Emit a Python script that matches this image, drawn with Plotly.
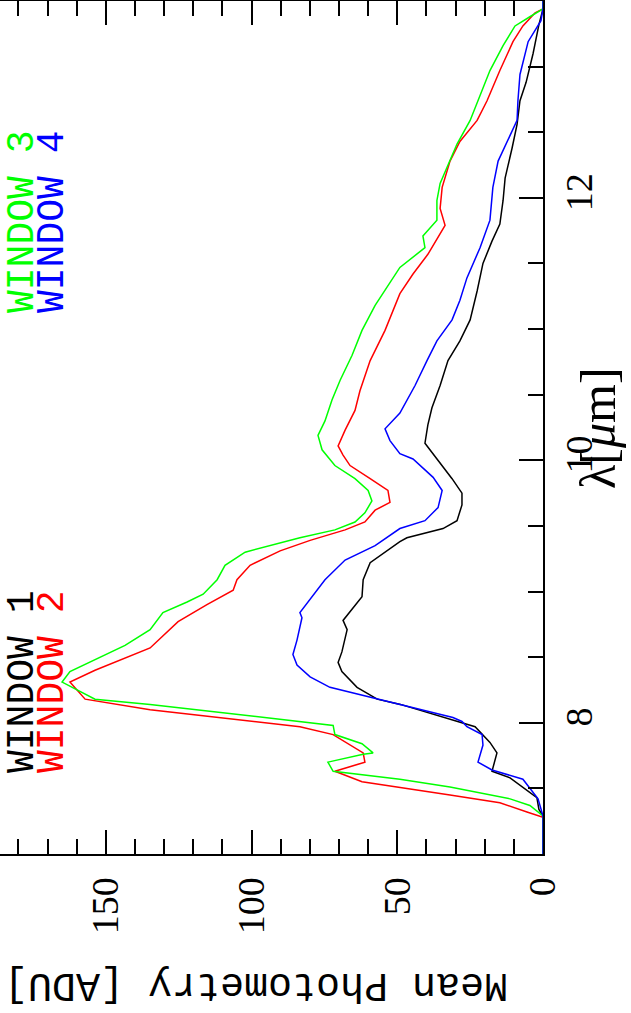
import plotly.graph_objects as go

# ---- data (wavelength in micron, photometry in ADU) ----
lam_w1 = [7.0, 7.29, 7.34, 7.43, 7.58, 7.63, 7.77, 7.85, 7.97, 8.01, 8.14, 8.18, 8.27, 8.39, 8.46,
          8.54, 8.71, 8.78, 8.96, 9.09, 9.22, 9.38, 9.41, 9.48, 9.54, 9.66, 9.75, 9.86, 9.98, 10.13,
          10.27, 10.40, 10.57, 10.76, 10.91, 11.07, 11.29, 11.50, 11.67, 11.80, 11.98, 12.15, 12.38,
          12.56, 12.74, 12.88, 13.10, 13.32, 13.44, 13.5]
val_w1 = [0, 0, 1.4, 2.1, 11.3, 17.5, 15.8, 18.2, 23.3, 29.5, 48.9, 56.9, 63.8, 69.0, 70.3,
          69.0, 67.2, 68.6, 62.1, 61.7, 59.3, 49.1, 46.7, 34.3, 29.5, 27.8, 27.8, 31.2, 35.3, 40.5,
          39.5, 38.1, 35.3, 32.6, 28.5, 25.0, 22.6, 20.6, 17.5, 14.8, 13.7, 13.0, 10.6,
          8.9, 7.9, 5.8, 3.4, 1.4, 0, 0]

lam_w2 = [7.0, 7.28, 7.32, 7.39, 7.45, 7.51, 7.55, 7.63, 7.70, 7.77, 7.91, 7.97, 8.10, 8.18, 8.31,
          8.40, 8.48, 8.57, 8.77, 8.90, 9.01, 9.09, 9.20, 9.31, 9.39, 9.47, 9.53, 9.62, 9.68, 9.77,
          9.86, 9.96, 10.04, 10.11, 10.23, 10.38, 10.53, 10.76, 10.99, 11.14, 11.27, 11.42, 11.57,
          11.79, 11.92, 12.08, 12.28, 12.43, 12.59, 12.74, 12.97, 13.19, 13.31, 13.41, 13.44, 13.5]
val_w2 = [0, 0, 5.5, 14.8, 31.9, 49.1, 62.1, 71.4, 61.1, 61.7, 72.0, 83.4, 134.8, 157.1, 162.3,
          153.7, 145.0, 134.8, 125.2, 115.3, 106.3, 105.0, 100.5, 90.2, 79.9, 67.9, 61.1, 57.6, 52.5, 53.2,
          59.3, 66.2, 68.6, 70.3, 67.9, 64.5, 62.8, 59.3, 54.2, 51.5, 49.1, 44.6, 39.5,
          33.6, 35.3, 34.6, 31.9, 28.5, 22.6, 19.2, 14.8, 10.3, 6.9, 2.7, 0, 0]

lam_w3 = [7.0, 7.29, 7.37, 7.42, 7.51, 7.57, 7.63, 7.70, 7.76, 7.77, 7.84, 7.91, 7.98, 8.14, 8.18,
          8.31, 8.39, 8.48, 8.59, 8.71, 8.84, 8.92, 8.98, 9.09, 9.20, 9.30, 9.35, 9.41, 9.47, 9.53,
          9.60, 9.69, 9.77, 9.86, 9.96, 10.08, 10.19, 10.30, 10.46, 10.61, 10.80, 10.99, 11.18,
          11.33, 11.47, 11.62, 11.71, 11.83, 11.98, 12.11, 12.28, 12.41, 12.59, 12.74, 12.97, 13.16,
          13.31, 13.38, 13.44, 13.5]
val_w3 = [0, 0, 4.5, 11.3, 31.9, 49.1, 72.0, 73.8, 61.7, 58.3, 62.1, 71.4, 72.0, 134.8, 153.7,
          165.0, 162.3, 153.7, 143.4, 134.8, 130.4, 122.1, 116.6, 111.8, 109.1, 102.2, 93.7, 83.4, 71.4, 64.5,
          61.1, 58.7, 60.0, 64.5, 71.4, 75.8, 77.2, 74.8, 72.4, 69.6, 65.5, 62.1, 57.6,
          53.2, 49.1, 40.5, 41.2, 36.4, 36.4, 35.3, 31.9, 29.5, 25.0, 22.3, 18.2, 13.7,
          9.6, 4.5, 0, 0]

lam_w4 = [7.0, 7.29, 7.42, 7.57, 7.64, 7.70, 7.83, 7.91, 7.97, 8.01, 8.04, 8.14, 8.18, 8.27, 8.35,
          8.44, 8.52, 8.63, 8.80, 8.84, 9.09, 9.24, 9.35, 9.48, 9.54, 9.64, 9.77, 9.87, 10.01, 10.05,
          10.15, 10.24, 10.36, 10.57, 10.76, 10.91, 11.07, 11.22, 11.39, 11.62, 11.83, 12.08, 12.28,
          12.43, 12.59, 12.74, 12.94, 13.19, 13.35, 13.44, 13.5]
val_w4 = [0, 0, 1.7, 6.9, 17.5, 22.3, 20.6, 20.9, 26.1, 27.8, 30.9, 49.1, 56.9, 73.1, 79.9,
          84.4, 85.8, 84.4, 82.7, 83.4, 74.8, 67.9, 57.6, 49.1, 40.5, 36.0, 34.6, 37.7, 44.6, 49.1,
          52.5, 54.2, 49.1, 43.9, 39.8, 36.4, 31.2, 28.5, 26.1, 21.6, 18.2, 17.2, 15.4,
          12.3, 8.9, 8.6, 7.9, 5.1, 0.7, 0, 0]

series_names = ["WINDOW 1", "WINDOW 2", "WINDOW 3", "WINDOW 4"]
series_colors = ["#000000", "#ff0000", "#00ff00", "#0000ff"]

x_tickvals = [0, 50, 100, 150]
y_tickvals = [8, 10, 12]

# ---- figure ----
fig = go.Figure()
for lam, val, name, col in zip([lam_w1, lam_w2, lam_w3, lam_w4],
                               [val_w1, val_w2, val_w3, val_w4],
                               series_names, series_colors):
    fig.add_trace(go.Scatter(x=val, y=lam, mode="lines", name=name,
                             line=dict(color=col, width=1.5), showlegend=False))

W, H = 631, 1013
ml, mr, mt, mb = 0, 88, 1, 159
pw, ph = W - ml - mr, H - mt - mb

def px(xp):
    return (xp - ml) / pw

def py(yp):
    return (H - mb - yp) / ph

tick_font = dict(family="Liberation Serif", size=38, color="black")

fig.update_layout(
    width=W, height=H,
    margin=dict(l=ml, r=mr, t=mt, b=mb),
    paper_bgcolor="white", plot_bgcolor="white",
    xaxis=dict(
        range=[186.3, 0], showgrid=False, zeroline=False,
        showline=True, linecolor="black", linewidth=2, mirror="allticks",
        ticks="inside", ticklen=24, tickwidth=2, tickcolor="black",
        tickvals=x_tickvals, ticktext=[str(v) for v in x_tickvals],
        tickangle=-90, tickfont=tick_font, ticklabelstandoff=6,
        minor=dict(ticks="inside", ticklen=15, tickwidth=2, tickcolor="black", dtick=10, tick0=0),
    ),
    yaxis=dict(
        range=[7.0, 13.5], side="right", showgrid=False, zeroline=False,
        showline=True, linecolor="black", linewidth=2, mirror=False,
        ticks="inside", ticklen=24, tickwidth=2, tickcolor="black",
        tickvals=y_tickvals, ticktext=[str(v) for v in y_tickvals],
        tickangle=-90, tickfont=tick_font, ticklabelstandoff=1,
        minor=dict(ticks="inside", ticklen=15, tickwidth=2, tickcolor="black", dtick=0.5, tick0=0),
    ),
)

mono = "Liberation Mono"
ann = [
    dict(text="Mean Photometry [ADU]", x=px(256), y=py(985), textangle=180,
         font=dict(family=mono, size=40, color="black")),
    dict(text="λ[<i>μ</i>m]", x=px(598), y=py(428), textangle=-90,
         font=dict(family="Liberation Serif", size=50, color="black")),
    dict(text=series_names[0], x=px(22), y=py(682), textangle=-90,
         font=dict(family=mono, size=38, color=series_colors[0])),
    dict(text=series_names[1], x=px(52), y=py(682), textangle=-90,
         font=dict(family=mono, size=38, color=series_colors[1])),
    dict(text=series_names[2], x=px(22), y=py(222), textangle=-90,
         font=dict(family=mono, size=38, color=series_colors[2])),
    dict(text=series_names[3], x=px(52), y=py(222), textangle=-90,
         font=dict(family=mono, size=38, color=series_colors[3])),
]
for a in ann:
    fig.add_annotation(xref="paper", yref="paper", showarrow=False,
                       xanchor="center", yanchor="middle", **a)

fig.write_html("out.html", config={"displayModeBar": False},
               post_script="document.body.style.margin='0';")
